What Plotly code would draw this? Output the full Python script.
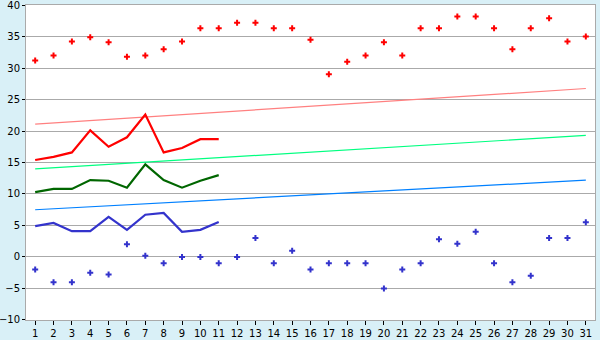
import plotly.graph_objects as go

days = list(range(1, 32))
max_pts = [31.2, 32.0, 34.2, 34.9, 34.1, 31.8, 32.0, 33.0, 34.2, 36.3,
           36.3, 37.2, 37.2, 36.3, 36.3, 34.5, 29.0, 31.0, 32.0, 34.1,
           32.0, 36.3, 36.3, 38.2, 38.2, 36.3, 33.0, 36.3, 37.9, 34.2, 35.0]
min_pts = [-2.0, -4.0, -4.0, -2.5, -2.8, 2.0, 0.2, -1.0, 0.0, 0.0,
           -1.0, 0.0, 3.0, -1.0, 1.0, -2.0, -1.0, -1.0, -1.0, -5.0,
           -2.0, -1.0, 2.8, 2.1, 4.0, -1.0, -4.0, -3.0, 3.0, 3.0, 5.5]
line_days = list(range(1, 12))
max_line = [15.4, 15.9, 16.6, 20.1, 17.5, 19.0, 22.6, 16.6, 17.3, 18.7, 18.7]
avg_line = [10.3, 10.8, 10.8, 12.2, 12.1, 11.0, 14.7, 12.2, 11.0, 12.1, 13.0]
min_line = [4.9, 5.4, 4.1, 4.1, 6.35, 4.3, 6.7, 7.0, 4.0, 4.3, 5.55]
trend_days = [1, 31]
max_trend = [21.1, 26.75]
avg_trend = [14.0, 19.3]
min_trend = [7.5, 12.2]
y_ticks = list(range(-10, 41, 5))

fig = go.Figure()
fig.add_trace(go.Scatter(x=trend_days, y=max_trend, mode="lines", line=dict(color="#ff8080", width=1.2)))
fig.add_trace(go.Scatter(x=trend_days, y=avg_trend, mode="lines", line=dict(color="#00ff80", width=1.2)))
fig.add_trace(go.Scatter(x=trend_days, y=min_trend, mode="lines", line=dict(color="#0080ff", width=1.2)))
fig.add_trace(go.Scatter(x=line_days, y=max_line, mode="lines", line=dict(color="#ff0000", width=2.2)))
fig.add_trace(go.Scatter(x=line_days, y=avg_line, mode="lines", line=dict(color="#006600", width=2.2)))
fig.add_trace(go.Scatter(x=line_days, y=min_line, mode="lines", line=dict(color="#3333cc", width=2.2)))
fig.add_trace(go.Scatter(x=days, y=max_pts, mode="markers",
                         marker=dict(symbol="cross", size=5, color="#ff0000", line=dict(width=0))))
fig.add_trace(go.Scatter(x=days, y=min_pts, mode="markers",
                         marker=dict(symbol="cross", size=5, color="#3333cc", line=dict(width=0))))

fig.update_layout(
    width=600, height=340,
    margin=dict(l=26, r=5, t=5, b=20),
    paper_bgcolor="#d9f0f7", plot_bgcolor="#ffffff",
    showlegend=False,
    font=dict(family="DejaVu Sans", size=10, color="#000000"),
    xaxis=dict(range=[0.5, 31.5], tickmode="array", tickvals=days, ticktext=[str(d) for d in days],
               automargin=False, ticklabeloverflow="allow",
               showgrid=False, zeroline=False, showline=True, linecolor="#aaaaaa", linewidth=1,
               mirror=True, ticks="outside", ticklen=4, tickcolor="#000000", tickwidth=1),
    yaxis=dict(range=[-10.01, 40.01], tickmode="array", tickvals=y_ticks,
               ticktext=[str(v).replace("-", "\u2212") for v in y_ticks],
               automargin=False, ticklabeloverflow="allow",
               showgrid=True, gridcolor="#aaaaaa", gridwidth=1, zeroline=False,
               showline=True, linecolor="#aaaaaa", linewidth=1, mirror=True,
               ticks="outside", ticklen=3, tickcolor="#000000", tickwidth=1),
)
fig.write_html("out.html")
